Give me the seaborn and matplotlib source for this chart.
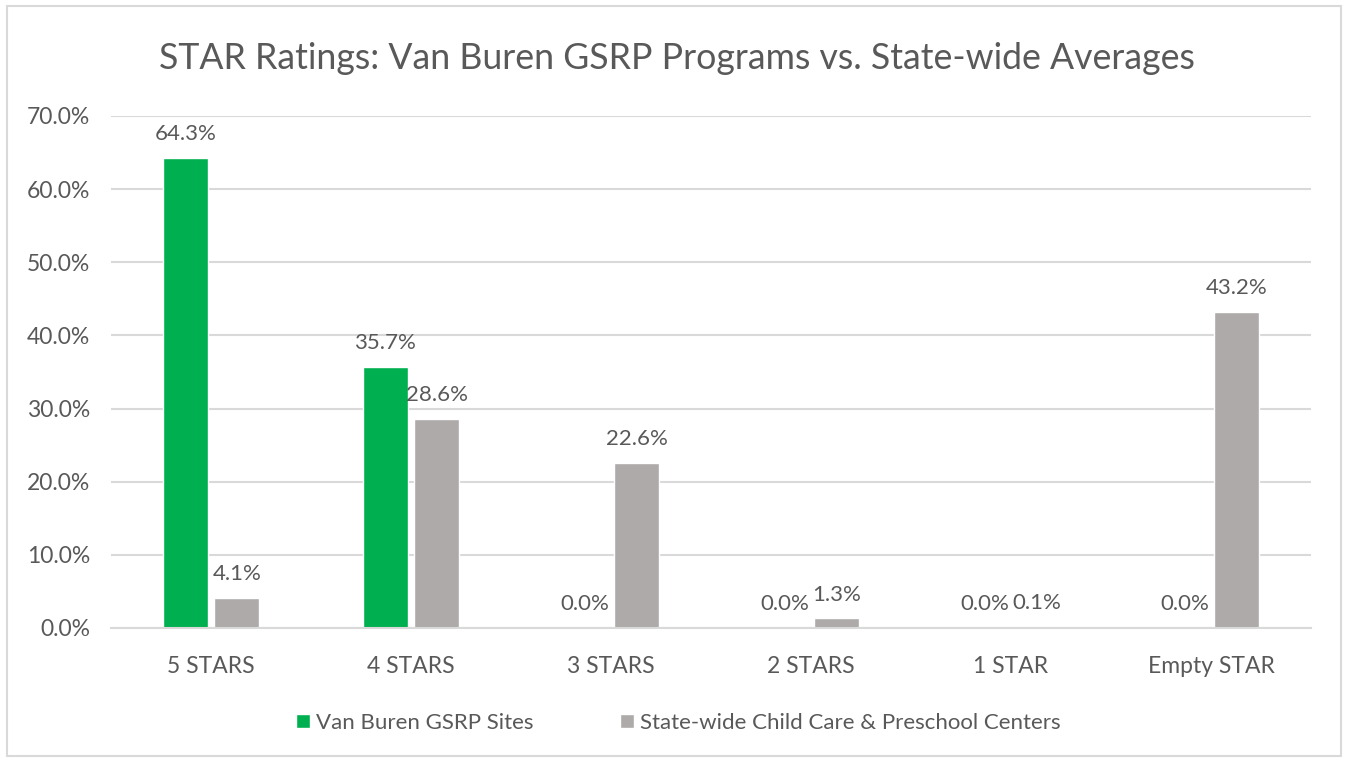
import pandas as pd
import matplotlib.pyplot as plt
import seaborn as sns
from matplotlib.patches import Rectangle

# Data
categories = ['5 STARS', '4 STARS', '3 STARS', '2 STARS', '1 STAR', 'Empty STAR']
van_buren = [64.3, 35.7, 0.0, 0.0, 0.0, 0.0]
statewide = [4.1, 28.6, 22.6, 1.3, 0.1, 43.2]
series_names = ['Van Buren GSRP Sites', 'State-wide Child Care & Preschool Centers']
y_ticks = [0, 10, 20, 30, 40, 50, 60, 70]

GREEN = '#00B050'
GRAY = '#AEAAAA'
TEXT = '#595959'
GRID = '#D9D9D9'

df = pd.DataFrame({
    'Rating': categories * 2,
    'Share': van_buren + statewide,
    'Series': [series_names[0]] * len(categories) + [series_names[1]] * len(categories),
})

sns.set_theme(style='white')
plt.rcParams['font.family'] = ['Lato', 'DejaVu Sans']

fig = plt.figure(figsize=(13.48, 7.62), dpi=100)
ax = fig.add_axes([0.0823, 0.1759, 0.8903, 0.6719])

sns.barplot(data=df, x='Rating', y='Share', hue='Series', order=categories,
            hue_order=series_names, palette=[GREEN, GRAY],
            width=0.515, gap=0.125, saturation=1, ax=ax)

for cont in ax.containers:
    ax.bar_label(cont, fmt='%.1f%%', padding=10, fontsize=16, color=TEXT)

ax.set_ylim(0, 70)
ax.set_yticks(y_ticks)
ax.set_yticklabels([f'{t:.1f}%' for t in y_ticks])
ax.yaxis.grid(True, color=GRID, linewidth=1.5)
ax.set_axisbelow(True)
for side in ['left', 'right', 'top']:
    ax.spines[side].set_visible(False)
ax.spines['bottom'].set_color(GRID)
ax.spines['bottom'].set_linewidth(1.5)
ax.tick_params(axis='both', length=0, labelcolor=TEXT)
ax.tick_params(axis='y', labelsize=16.5, pad=15)
ax.tick_params(axis='x', labelsize=16.5, pad=20)
ax.set_xlabel('')
ax.set_ylabel('')

fig.suptitle('STAR Ratings: Van Buren GSRP Programs vs. State-wide Averages',
             x=0.502, y=0.923, va='center', fontsize=25.7, color=TEXT)

# legend sits centred on the whole chart, not the plot area
leg = ax.legend(loc='upper center', bbox_to_anchor=(0.473, -0.127), ncol=2,
                frameon=False, fontsize=16, handlelength=0.6, handleheight=0.6,
                handletextpad=0.3, columnspacing=3.9)
for t in leg.get_texts():
    t.set_color(TEXT)

# outer chart border
fig.patches.append(Rectangle((0.005, 0.008), 0.99, 0.984, transform=fig.transFigure,
                             fill=False, edgecolor=GRID, linewidth=1.5))

fig.savefig('out.png', dpi=100)
